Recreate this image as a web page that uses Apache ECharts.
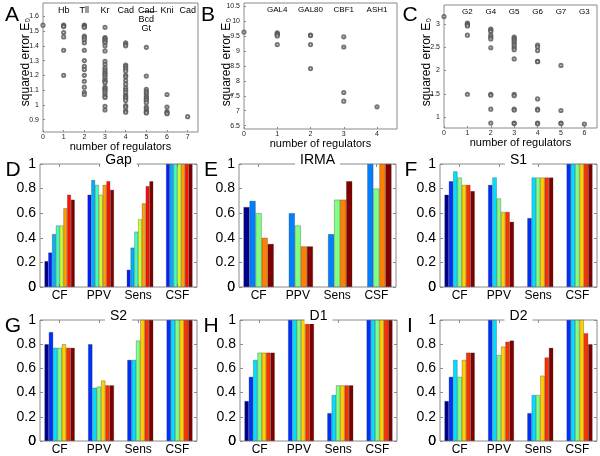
<!DOCTYPE html>
<html><head><meta charset="utf-8">
<script src="https://cdn.jsdelivr.net/npm/echarts@6/dist/echarts.min.js"></script>
<style>html,body{margin:0;padding:0;background:#fff}#c{width:600px;height:456px}</style>
</head><body><div id="c"></div>
<script>
// ---------- DATA ----------
// Scatter panels: squared error values grouped by number of regulators (index = count)
const aErr = [
  [1.54],
  [1.54,1.535,1.53,1.49,1.46,1.37,1.2],
  [1.54,1.535,1.53,1.525,1.465,1.455,1.44,1.42,1.37,1.3,1.26,1.24,1.2,1.16,1.12,1.085,1.07],
  [1.525,1.455,1.45,1.44,1.43,1.42,1.4,1.365,1.295,1.275,1.25,1.235,1.22,1.21,1.2,1.185,1.17,1.16,1.15,1.12,1.11,1.1,1.09,1.075,1.06,1.05,0.99,0.965],
  [1.42,1.41,1.4,1.27,1.26,1.245,1.23,1.2,1.19,1.165,1.14,1.115,1.1,1.085,1.065,1.055,1.045,1.03,0.995,0.985,0.96,0.95],
  [1.39,1.195,1.105,1.09,1.08,1.065,1.05,1.04,1.03,1.015,0.985,0.975,0.96,0.95,0.945],
  [1.07,0.985,0.955,0.945,0.94],
  [0.92]
];
const aNames = ['Hb','Tll','Kr','Cad','C\u0336a\u0336d\u0336\nBcd\nGt','Kni','Cad'];
const aXTicks = [0,1,2,3,4,5,6,7];
const aYTicks = [0.9,1,1.1,1.2,1.3,1.4,1.5,1.6];

const bErr = [
  [9.63],
  [9.6,9.57,9.54,9.5,9.21],
  [9.53,9.51,9.21,8.41],
  [9.47,9.13,7.61,7.32],
  [7.13]
];
const bNames = ['GAL4','GAL80','CBF1','ASH1'];
const bXTicks = [0,1,2,3,4];
const bYTicks = [6.5,7,7.5,8,8.5,9,9.5,10,10.5];

const cErr = [
  [3.16],
  [3.02,3.0,2.98,2.96,2.76,1.49],
  [2.89,2.87,2.84,2.76,2.72,2.68,2.49,1.49,1.47,1.17,0.87],
  [2.72,2.69,2.66,2.62,2.58,2.54,2.49,2.45,2.25,1.49,1.46,1.17,1.15,0.87,0.86],
  [2.55,2.51,2.43,2.2,2.19,1.39,1.17,1.15,0.87,0.855],
  [2.11,1.14,0.87,0.86],
  [0.85]
];
const cNames = ['G2','G4','G5','G6','G7','G3'];
const cXTicks = [0,1,2,3,4,5,6];
const cYTicks = [1,1.5,2,2.5,3];

// Bar panels: one value per series (threshold) for each metric
const metrics = ['CF','PPV','Sens','CSF'];

const gapCF   = [0.21,0.28,0.43,0.50,0.50,0.64,0.75,0.71];
const gapPPV  = [null,0.75,0.87,0.83,0.75,0.83,0.86,0.79];
const gapSens = [null,0.14,0.32,0.45,0.55,0.68,0.82,0.86];
const gapCSF  = [null,1,1,1,1,1,1,1];

const irmaCF   = [0.65,0.70,0.60,0.40,0.35];
const irmaPPV  = [null,0.60,0.50,0.33,0.33];
const irmaSens = [null,0.43,0.71,0.71,0.86];
const irmaCSF  = [null,1,0.8,1,1];

const s1CF   = [0.75,0.86,0.94,0.89,0.83,0.83,0.78];
const s1PPV  = [null,0.83,0.89,0.72,0.61,0.61,0.53];
const s1Sens = [null,0.56,0.89,0.89,0.89,0.89,0.89];
const s1CSF  = [null,1,1,1,1,1,1];

const s2CF   = [0.80,0.90,0.77,0.77,0.80,0.77,0.77];
const s2PPV  = [null,0.80,0.44,0.45,0.50,0.46,0.46];
const s2Sens = [null,0.67,0.67,0.83,1,1,1];
const s2CSF  = [null,1,1,1,1,1,1];

const d1CF   = [0.33,0.53,0.67,0.73,0.73,0.73,0.73];
const d1PPV  = [null,1,1,1,1,1,1];
const d1Sens = [null,0.23,0.38,0.46,0.46,0.46,0.46];
const d1CSF  = [null,1,1,1,1,1,1];

const d2CF   = [0.33,0.53,0.67,0.53,0.67,0.73,0.73];
const d2PPV  = [null,1,1,0.71,0.78,0.82,0.83];
const d2Sens = [null,0.23,0.38,0.38,0.54,0.69,0.77];
const d2CSF  = [null,1,1,1,1,0.89,0.80];

// ---------- STYLE / BUILD ----------
const FONT = "'Liberation Sans', Arial, Helvetica, sans-serif";
const AX = '#8a8a8a';
function jet64(i){
  let r,g,b;
  if(i<=8){r=0;g=0;b=0.5+0.0625*i;}
  else if(i<=24){r=0;g=0.0625*(i-8);b=1;}
  else if(i<=40){r=0.0625*(i-24);g=1;b=1-0.0625*(i-24);}
  else if(i<=56){r=1;g=1-0.0625*(i-40);b=0;}
  else {r=1-0.0625*(i-56);g=0;b=0;}
  const f=v=>Math.round(Math.max(0,Math.min(1,v))*255);
  return 'rgb('+f(r)+','+f(g)+','+f(b)+')';
}
function jetColor(k,N){ return jet64(Math.floor(k*63/(N-1))+1); }

const grids=[], xAxes=[], yAxes=[], series=[], graphics=[], barAxes=[];

function addScatter(c){
  const gi=grids.length;
  grids.push({left:c.left,top:c.top,width:c.width,height:c.height,show:true,borderColor:AX,borderWidth:1,containLabel:false});
  const xi=xAxes.length;
  xAxes.push({gridIndex:gi,type:'value',min:0,max:c.xMax,position:'bottom',
    axisLine:{show:false},splitLine:{show:false},
    axisTick:{show:true,inside:true,length:2,customValues:c.xTicks,lineStyle:{color:AX}},
    axisLabel:{customValues:c.xTicks,fontSize:7,margin:2,color:'#222',fontFamily:FONT,showMinLabel:true,showMaxLabel:true},
    name:'number of regulators',nameLocation:'middle',nameGap:3,
    nameTextStyle:{fontSize:11,color:'#000',fontFamily:FONT}});
  xAxes.push({gridIndex:gi,type:'value',min:0,max:c.xMax,position:'top',
    axisLine:{show:false},splitLine:{show:false},axisTick:{show:false},
    axisLabel:{inside:true,customValues:c.names.map((n,i)=>i+1),formatter:v=>c.names[v-1]||'',
      fontSize:c.nameSize,margin:3,color:'#000',lineHeight:c.nameSize,fontFamily:FONT}});
  const yi=yAxes.length;
  yAxes.push({gridIndex:gi,type:'value',min:c.yMin,max:c.yMax,
    axisLine:{show:false},splitLine:{show:false},
    axisTick:{show:true,inside:true,length:2,customValues:c.yTicks,lineStyle:{color:AX}},
    axisLabel:{customValues:c.yTicks,fontSize:7,margin:4,color:'#222',fontFamily:FONT,showMinLabel:true,showMaxLabel:true}});
  const data=[];
  c.errors.forEach((arr,k)=>arr.forEach(v=>data.push([k,v])));
  series.push({type:'scatter',xAxisIndex:xi,yAxisIndex:yi,data:data,symbol:'emptyCircle',symbolSize:3.2,
    itemStyle:{color:'#555',borderWidth:0.75},silent:true});
  graphics.push({type:'text',x:c.yNameX,y:c.yNameY,rotation:Math.PI/2,z:100,
    style:{text:'squared error E\u2080',font:'12px '+FONT,fill:'#000',align:'center',verticalAlign:'middle',textAlign:'center',textVerticalAlign:'middle'}});
  graphics.push({type:'text',x:c.letterX,y:c.letterY,z:100,
    style:{text:c.letter,font:'21px '+FONT,fill:'#000',align:'center',verticalAlign:'middle',textAlign:'center',textVerticalAlign:'middle'}});
}

function addBars(c){
  const gi=grids.length;
  grids.push({left:c.left,top:c.top,width:157,height:c.height,show:true,borderColor:AX,borderWidth:1});
  const xi=xAxes.length;
  xAxes.push({gridIndex:gi,type:'category',data:metrics,position:'bottom',
    axisLine:{show:false,onZero:false},
    axisTick:{show:true,inside:true,alignWithLabel:true,length:3,lineStyle:{color:AX}},
    axisLabel:{fontSize:12,margin:3,color:'#000',fontFamily:FONT}});
  xAxes.push({gridIndex:gi,type:'category',data:metrics,position:'top',
    axisLine:{show:false,onZero:false},axisLabel:{show:false},
    axisTick:{show:true,inside:true,alignWithLabel:true,length:3,lineStyle:{color:AX}}});
  const yi=yAxes.length;
  yAxes.push({gridIndex:gi,type:'value',min:0,max:1,interval:0.2,
    axisLine:{show:false},splitLine:{show:false},
    axisTick:{show:true,inside:true,length:3,lineStyle:{color:AX}},
    axisLabel:{fontSize:14,margin:4,color:'#000',fontFamily:FONT,showMinLabel:true,showMaxLabel:true}});
  yAxes.push({gridIndex:gi,type:'value',min:0,max:1,interval:0.2,position:'right',
    axisLine:{show:false},splitLine:{show:false},axisLabel:{show:false},
    axisTick:{show:true,inside:true,length:3,lineStyle:{color:AX}}});
  barAxes.push({yi:yi,left:c.left});
  const N=c.values[0].length;
  for(let k=0;k<N;k++){
    series.push({type:'bar',xAxisIndex:xi,yAxisIndex:yi,data:c.values.map(a=>a[k]),
      barGap:'0%',barCategoryGap:'23%',silent:true,
      itemStyle:{color:jetColor(k,N),borderColor:'rgba(30,30,30,0.55)',borderWidth:0.5}});
  }
  graphics.push({type:'text',x:c.left+78.5,y:c.top-4,z:100,
    style:{text:c.title,font:'14px '+FONT,fill:'#000',align:'center',verticalAlign:'middle',textAlign:'center',textVerticalAlign:'middle',backgroundColor:'#fff',padding:[1,5]}});
  graphics.push({type:'text',x:c.letterX,y:c.top+6,z:100,
    style:{text:c.letter,font:'21px '+FONT,fill:'#000',align:'center',verticalAlign:'middle',textAlign:'center',textVerticalAlign:'middle'}});
}

addScatter({left:43,top:3,width:155,height:129,xMax:7.5,yMin:0.816,yMax:1.69,xTicks:aXTicks,yTicks:aYTicks,
  names:aNames,nameSize:9,errors:aErr,yNameX:26,yNameY:62,letter:'A',letterX:12,letterY:15});
addScatter({left:244,top:3,width:153,height:126,xMax:4.6,yMin:6.39,yMax:10.6,xTicks:bXTicks,yTicks:bYTicks,
  names:bNames,nameSize:8,errors:bErr,yNameX:227,yNameY:62,letter:'B',letterX:208,letterY:15});
addScatter({left:444,top:5,width:153,height:123,xMax:6.54,yMin:0.764,yMax:3.41,xTicks:cXTicks,yTicks:cYTicks,
  names:cNames,nameSize:8,errors:cErr,yNameX:427,yNameY:62,letter:'C',letterX:410,letterY:15});

addBars({left:40,top:164,height:123,title:'Gap',values:[gapCF,gapPPV,gapSens,gapCSF],letter:'D',letterX:13});
addBars({left:239,top:164,height:123,title:'IRMA',values:[irmaCF,irmaPPV,irmaSens,irmaCSF],letter:'E',letterX:211});
addBars({left:440,top:164,height:123,title:'S1',values:[s1CF,s1PPV,s1Sens,s1CSF],letter:'F',letterX:411});
addBars({left:40,top:320,height:122,title:'S2',values:[s2CF,s2PPV,s2Sens,s2CSF],letter:'G',letterX:13});
addBars({left:240,top:320,height:122,title:'D1',values:[d1CF,d1PPV,d1Sens,d1CSF],letter:'H',letterX:211});
addBars({left:440,top:320,height:122,title:'D2',values:[d2CF,d2PPV,d2Sens,d2CSF],letter:'I',letterX:410});

const chart=echarts.init(document.getElementById('c'),null,{renderer:'canvas'});
chart.setOption({
  animation:false,
  backgroundColor:'#fff',
  textStyle:{fontFamily:FONT},
  grid:grids,xAxis:xAxes,yAxis:yAxes,series:series,graphic:{elements:graphics}
});
// the value-axis "0" label at the bar panels' origin is suppressed by the library;
// place it from the axis scale itself
barAxes.forEach(b=>{
  const py=chart.convertToPixel({yAxisIndex:b.yi},0);
  graphics.push({type:'text',x:b.left-4,y:py,z:100,
    style:{text:'0',font:'14px '+FONT,fill:'#000',align:'right',verticalAlign:'middle',textAlign:'right',textVerticalAlign:'middle'}});
});
chart.setOption({graphic:{elements:graphics}});
</script></body></html>
